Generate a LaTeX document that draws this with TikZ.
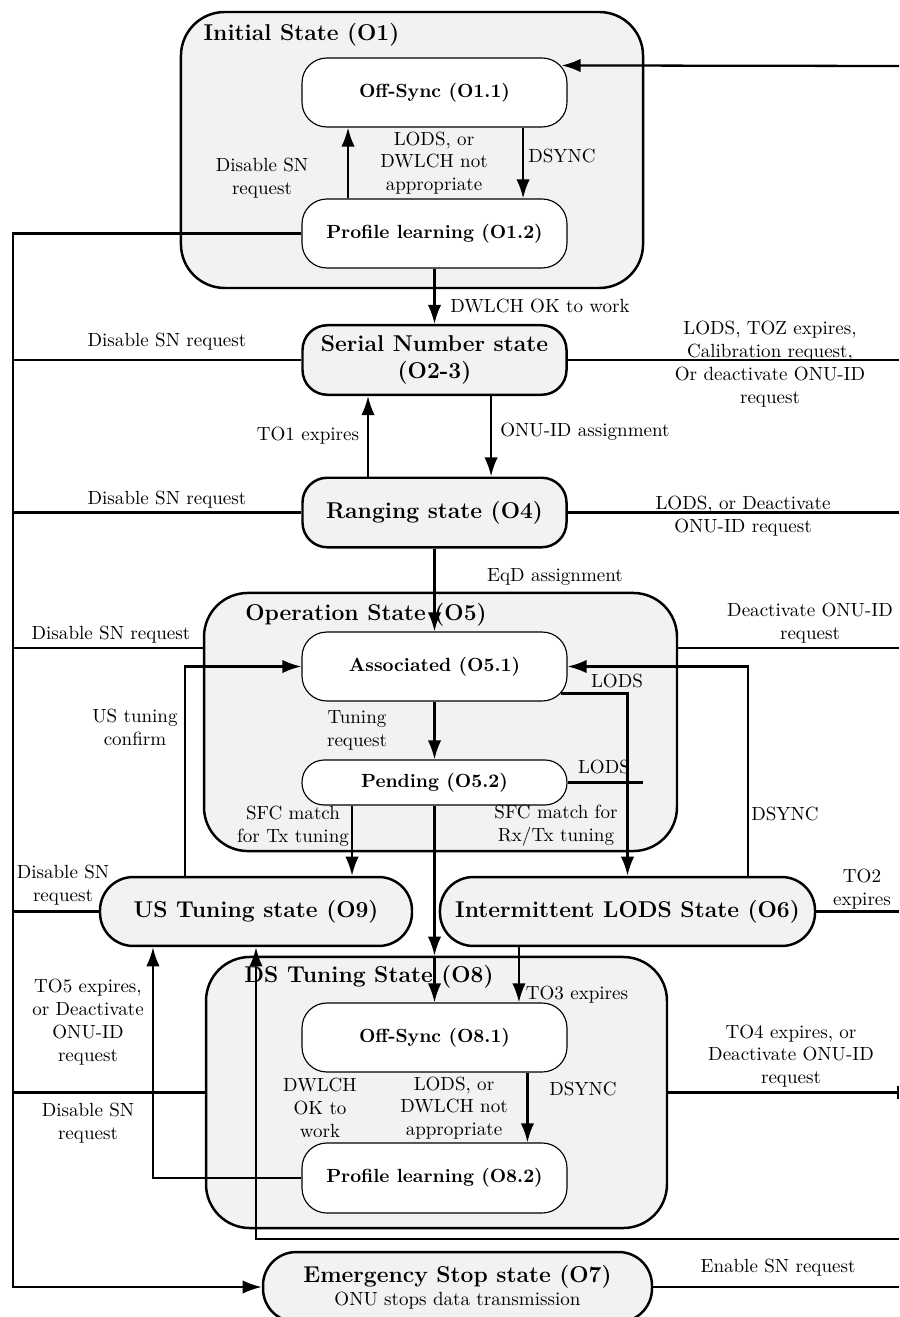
\documentclass[tikz,border=0pt]{standalone}
\usetikzlibrary{arrows.meta}

\begin{document}
\begin{tikzpicture}[x=0.525pt,y=-0.525pt,
    box/.style={draw,line width=1.3pt,fill=black!5,rounded corners=23pt},
    inner/.style={draw,line width=0.6pt,fill=white,rounded corners=13pt,minimum width=139.1pt,minimum height=36.2pt,font=\bfseries},
    state/.style={draw,line width=1.3pt,fill=black!5,rounded corners=13pt,minimum width=138.6pt,minimum height=36.5pt,font=\large\bfseries,align=center},
    pill/.style={draw,line width=1.3pt,fill=black!5,rounded corners=17.5pt,minimum height=36.2pt,font=\large\bfseries,align=center},
    lbl/.style={align=center,inner sep=0pt},
    conn/.style={line width=1.2pt},
    arr/.style={conn,-{Latex[length=10pt,width=7pt]}}]
\useasboundingbox (0,0) rectangle (899,1317);

\node[box,minimum width=242.6pt,minimum height=144.9pt] (init) at (412,150) {};
\node[box,minimum width=248.3pt,minimum height=135.5pt] (ops) at (440.5,722) {};
\node[box,minimum width=242pt,minimum height=142.3pt] (dst) at (436.5,1092.5) {};
\node[lbl,font=\large\bfseries] (tInit) at (301.5,35) {Initial State (O1)};
\node[lbl,font=\large\bfseries] (tOps) at (366,615) {Operation State (O5)};
\node[lbl,font=\large\bfseries] (tDst) at (369,977) {DS Tuning State (O8)};

\node[inner] (offA) at (434.5,92.5) {Off-Sync (O1.1)};
\node[inner] (plA) at (434.5,233.5) {Profile learning (O1.2)};
\node[state] (sn) at (434.5,360) {Serial Number state\\(O2-3)};
\node[state] (rng) at (434.5,512.5) {Ranging state (O4)};
\node[inner] (asc) at (434.5,666.5) {Associated (O5.1)};
\node[inner,minimum height=23.6pt,rounded corners=11.5pt] (pend) at (434.5,782.5) {Pending (O5.2)};
\node[pill,minimum width=163.8pt] (ust) at (256,911.5) {US Tuning state (O9)};
\node[pill,minimum width=196.9pt] (ilods) at (627.5,911.5) {Intermittent LODS State (O6)};
\node[inner] (offB) at (434.5,1037.5) {Off-Sync (O8.1)};
\node[inner,minimum height=36.75pt] (plB) at (434.5,1178) {Profile learning (O8.2)};
\node[pill,minimum width=204.2pt,minimum height=36.75pt,font=\normalsize] (emg) at (457.5,1287) {{\large\bfseries Emergency Stop state (O7)}\\ONU stops data transmission};

\coordinate (busT) at (13,233.5);
\coordinate (busB) at (13,1287);
\coordinate (edge) at (899,0);
\coordinate (rA) at (899,66);
\coordinate (rB) at (899,1239);
\coordinate (opsL) at ([yshift=38.9pt]ops.west);
\coordinate (opsR) at ([yshift=38.9pt]ops.east);
\coordinate (pStub) at (643,782.5);

\draw[arr] (plA.west) -- (busT) -- (busB) -- (emg.west);
\draw[conn] (sn.west) -- (sn.west -| busT);
\draw[conn] (rng.west) -- (rng.west -| busT);
\draw[conn] (opsL) -- (opsL -| busT);
\draw[conn] (ust.west) -- (ust.west -| busT);
\draw[conn] (dst.west) -- (dst.west -| busT);

\draw[arr] (rA) -- ([xshift=-3.2pt,yshift=-4.2pt]offA.north east);
\draw[conn] (sn.east) -- (sn.east -| edge);
\draw[conn] (rng.east) -- (rng.east -| edge);
\draw[conn] (opsR) -- (opsR -| edge);
\draw[conn] (ilods.east) -- (ilods.east -| edge);
\draw[conn,-{Bar[width=7pt]}] (dst.east) -- (dst.east -| edge);
\draw[conn] (emg.east) -- (emg.east -| edge);
\draw[arr] (rB) -| (ust.south);

\draw[arr] ([xshift=-45.4pt]plA.north) -- ([xshift=-45.4pt]offA.south);
\draw[arr] ([xshift=46.5pt]offA.south) -- ([xshift=46.5pt]plA.north);
\draw[arr] (plA.south) -- (sn.north);
\draw[arr] ([xshift=-34.9pt]rng.north) -- ([xshift=-34.9pt]sn.south);
\draw[arr] ([xshift=29.7pt]sn.south) -- ([xshift=29.7pt]rng.north);
\draw[arr] (rng.south) -- (asc.north);
\draw[arr] (asc.south) -- (pend.north);
\draw[arr] ([xshift=-37.3pt]ust.north) |- (asc.west);
\draw[arr] ([xshift=-3.7pt,yshift=4.2pt]asc.south east) -| (ilods.north);
\draw[arr] ([xshift=63.3pt]ilods.north) |- (asc.east);
\draw[conn] (pend.east) -- (pStub);
\draw[arr] ([xshift=-43.3pt]pend.south) -- ([xshift=-43.3pt]pend.south |- ust.north);
\draw[arr] (pend.south) -- (pend.south |- dst.north);
\draw[arr] (pend.south |- dst.north) -- (offB.north);
\draw[arr] ([xshift=-57pt]ilods.south) -- ([xshift=-57pt]ilods.south |- offB.north);
\draw[arr] ([xshift=48.8pt]offB.south) -- ([xshift=48.8pt]plB.north);
\draw[arr] (plB.west) -| ([xshift=-54.1pt]ust.south);

\node[lbl] (lA1) at (262,178.5) {Disable SN\\request};
\node[lbl] (lA2) at (434,163) {LODS, or\\DWLCH not\\appropriate};
\node[lbl] (lA3) at (562,156) {DSYNC};
\node[lbl] (lA4) at (540,306) {DWLCH OK to work};
\node[lbl] (lB1) at (167,342) {Disable SN request};
\node[lbl] (lB2) at (770,364) {LODS, TOZ expires,\\Calibration request,\\Or deactivate ONU-ID\\request};
\node[lbl] (lB3) at (308,436) {TO1 expires};
\node[lbl] (lB4) at (585,432) {ONU-ID assignment};
\node[lbl] (lC1) at (167,500) {Disable SN request};
\node[lbl] (lC2) at (743,516) {LODS, or Deactivate\\ONU-ID request};
\node[lbl] (lC3) at (555,577) {EqD assignment};
\node[lbl] (lD1) at (111,635) {Disable SN request};
\node[lbl] (lD2) at (810,623) {Deactivate ONU-ID\\request};
\node[lbl] (lD3) at (135,727) {US tuning\\confirm};
\node[lbl] (lD4) at (357,730) {Tuning\\request};
\node[lbl] (lD5) at (617,681) {LODS};
\node[lbl] (lD6) at (604,767) {LODS};
\node[lbl] (lD7) at (785,814) {DSYNC};
\node[lbl] (lD8) at (293,826) {SFC match\\for Tx tuning};
\node[lbl] (lD9) at (556,826) {SFC match for\\Rx/Tx tuning};
\node[lbl] (lE1) at (63,885) {Disable SN\\request};
\node[lbl] (lE2) at (862,889) {TO2\\expires};
\node[lbl] (lF1) at (577,995) {TO3 expires};
\node[lbl] (lF2) at (88,1022) {TO5 expires,\\or Deactivate\\ONU-ID\\request};
\node[lbl] (lF3) at (88,1123) {Disable SN\\request};
\node[lbl] (lF4) at (320,1108) {DWLCH\\OK to\\work};
\node[lbl] (lF5) at (454,1108) {LODS, or\\DWLCH not\\appropriate};
\node[lbl] (lF6) at (583,1089) {DSYNC};
\node[lbl] (lF7) at (791,1056) {TO4 expires, or\\Deactivate ONU-ID\\request};
\node[lbl] (lG1) at (778,1268) {Enable SN request};
\end{tikzpicture}
\end{document}
